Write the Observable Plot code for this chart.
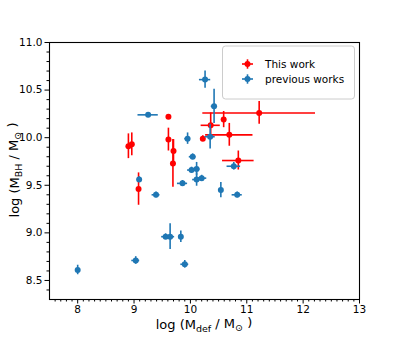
<!DOCTYPE html>
<html><head><meta charset="utf-8">
<script src="https://cdn.jsdelivr.net/npm/d3@7"></script>
<script src="https://cdn.jsdelivr.net/npm/@observablehq/plot@0.6"></script>
<style>body{margin:0;background:#fff;} svg{display:block;}</style>
</head><body><div id="chart"></div>
<script>
// This work (red)
const redX    = [8.90, 8.96, 9.61, 9.61, 9.70, 9.69, 10.22, 9.08, 10.36, 10.59, 11.22, 10.69, 10.85];
const redY    = [9.91, 9.93, 10.22, 9.98, 9.86, 9.73, 9.99, 9.46, 10.13, 10.19, 10.26, 10.03, 9.76];
const redXErr = [0.03, 0.03, 0.00, 0.02, 0.02, 0.02, 0.04, 0.02, 0.17, 0.03, 1.00, 0.42, 0.28];
const redYErr = [0.13, 0.12, 0.00, 0.12, 0.12, 0.25, 0.03, 0.17, 0.13, 0.085, 0.12, 0.12, 0.10];
// previous works (blue)
const blueX    = [9.25, 9.95, 10.35, 10.42, 10.26, 10.04, 10.02, 10.11, 10.11, 10.20, 9.86, 9.39, 9.09, 10.54, 10.83, 10.77, 9.56, 9.64, 9.83, 9.03, 9.90, 8.00];
const blueY    = [10.24, 9.99, 10.01, 10.33, 10.61, 9.80, 9.66, 9.67, 9.56, 9.575, 9.52, 9.40, 9.56, 9.45, 9.40, 9.70, 8.96, 8.96, 8.96, 8.71, 8.67, 8.61];
const blueXErr = [0.18, 0.05, 0.09, 0.05, 0.10, 0.06, 0.07, 0.06, 0.07, 0.09, 0.09, 0.07, 0.03, 0.03, 0.09, 0.12, 0.07, 0.08, 0.04, 0.07, 0.07, 0.03];
const blueYErr = [0.02, 0.06, 0.13, 0.18, 0.09, 0.03, 0.03, 0.07, 0.07, 0.03, 0.03, 0.03, 0.03, 0.08, 0.03, 0.04, 0.03, 0.135, 0.06, 0.04, 0.04, 0.05];
// ticks
const majorX = [8, 9, 10, 11, 12, 13];
const majorY = [8.5, 9.0, 9.5, 10.0, 10.5, 11.0];
const seriesNames = ["This work", "previous works"];
const seriesColors = ["#ff0000", "#1f77b4"];

const minorX = d3.range(76, 131).filter(d => d % 10 !== 0).map(d => d / 10);
const minorY = d3.range(84, 111).filter(d => d % 5 !== 0).map(d => d / 10);

const toRows = (xs, ys, xe, ye) => xs.map((x, i) => ({x, y: ys[i], xe: xe[i], ye: ye[i]}));
const red = toRows(redX, redY, redXErr, redYErr);
const blue = toRows(blueX, blueY, blueXErr, blueYErr);

const seriesMarks = (data, color) => [
  Plot.ruleX(data, {x: "x", y1: d => d.y - d.ye, y2: d => d.y + d.ye, stroke: color, strokeWidth: 1.6}),
  Plot.ruleY(data, {y: "y", x1: d => d.x - d.xe, x2: d => d.x + d.xe, stroke: color, strokeWidth: 1.6}),
  Plot.dot(data, {x: "x", y: "y", r: 3, fill: color, stroke: "none"})
];

const plot = Plot.plot({
  width: 399, height: 342,
  marginLeft: 49, marginRight: 40, marginTop: 42, marginBottom: 43,
  style: {fontFamily: "DejaVu Sans", fontSize: "10.5px", color: "black", background: "white"},
  x: {domain: [7.5, 13]},
  y: {domain: [8.3, 11.0]},
  marks: [
    Plot.axisX({ticks: minorX, tickSize: 2.5, tickFormat: () => "", label: null}),
    Plot.axisY({ticks: minorY, tickSize: 2.5, tickFormat: () => "", label: null}),
    Plot.axisX({ticks: majorX, tickSize: 4.5, tickPadding: 2, tickFormat: d3.format("d"), label: null}),
    Plot.axisY({ticks: majorY, tickSize: 4.5, tickPadding: 2.5, tickFormat: d3.format(".1f"), label: null}),
    ...seriesMarks(red, seriesColors[0]),
    ...seriesMarks(blue, seriesColors[1]),
    Plot.frame({stroke: "black", strokeWidth: 1.1})
  ]
});

const svg = d3.select(plot);
// Legend
const lg = svg.append("g").attr("text-anchor", "start");
lg.append("rect").attr("x", 222.5).attr("y", 46).attr("width", 132).attr("height", 53).attr("rx", 3)
  .attr("fill", "white").attr("fill-opacity", 0.8).attr("stroke", "#cccccc");
seriesNames.forEach((name, i) => {
  const cy = 64 + i * 15, cx = 247.5, c = seriesColors[i];
  lg.append("line").attr("x1", cx - 5.5).attr("x2", cx + 5.5).attr("y1", cy).attr("y2", cy).attr("stroke", c).attr("stroke-width", 1.6);
  lg.append("line").attr("x1", cx).attr("x2", cx).attr("y1", cy - 4.7).attr("y2", cy + 4.7).attr("stroke", c).attr("stroke-width", 1.6);
  lg.append("circle").attr("cx", cx).attr("cy", cy).attr("r", 3).attr("fill", c);
  lg.append("text").attr("x", 265).attr("y", cy + 3.7).attr("text-anchor", "start").attr("font-size", "10.5px").attr("fill", "black").text(name);
});

// Axis titles with subscripts
function title(sel, sub1) {
  sel.attr("font-size", "13px").attr("fill", "black").attr("text-anchor", "middle");
  sel.append("tspan").text("log (M");
  sel.append("tspan").attr("dy", "0.3em").attr("font-size", "9.5px").text(sub1);
  sel.append("tspan").attr("dy", "-0.3em").text(" / M");
  sel.append("tspan").attr("dy", "0.3em").attr("font-size", "9.5px").text("\u2299");
  sel.append("tspan").attr("dy", "-0.3em").text(" )");
}
title(svg.append("text").attr("x", 204).attr("y", 329), "def");
title(svg.append("text").attr("transform", "translate(19,170) rotate(-90)"), "BH");

document.getElementById("chart").appendChild(plot);
</script>
</body></html>
